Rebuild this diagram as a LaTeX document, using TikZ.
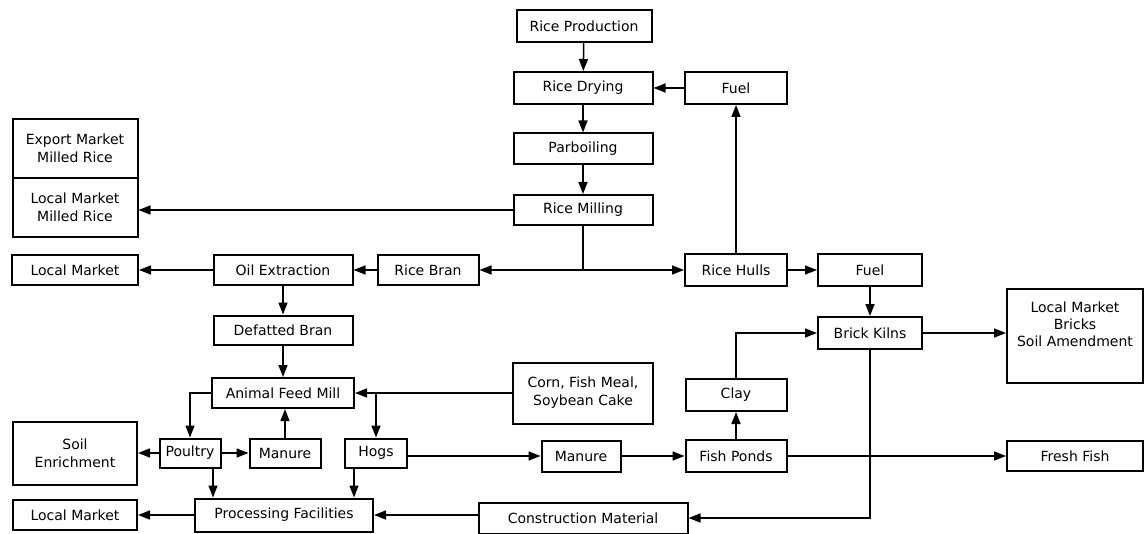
\documentclass[tikz,border=0pt]{standalone}
\usepackage{fontspec}
\setmainfont{DejaVu Sans}
\usetikzlibrary{arrows.meta}
\begin{document}
\begin{tikzpicture}[x=1pt,y=-1pt,
  box/.style={draw,line width=2pt,inner sep=0pt,align=center,font=\fontsize{14}{18}\selectfont},
  txt/.style={inner sep=0pt,align=center,font=\fontsize{14}{17}\selectfont},
  conn/.style={line width=1.5pt},
  arr/.style={conn,-{Triangle[length=12pt,width=9pt]}}]
\useasboundingbox (0,0) rectangle (1147,534);
\fill[white] (0,0) rectangle (1147,534);
% main column
\node[box,minimum width=135,minimum height=32] (rp) at (584,26) {Rice Production};
\node[box,minimum width=139,minimum height=32] (rd) at (583,88) {Rice Drying};
\node[box,minimum width=102,minimum height=32] (f1) at (736,88) {Fuel};
\node[box,minimum width=139,minimum height=31] (pb) at (583,149) {Parboiling};
\node[box,minimum width=139,minimum height=30] (rm) at (583,210) {Rice Milling};
\node[box,minimum width=125,minimum height=59] (emr) at (75,148.5) {Export Market\\Milled Rice};
\node[box,minimum width=125,minimum height=59] (lmr) at (75,207.5) {Local Market\\Milled Rice};
% row 270
\node[box,minimum width=126,minimum height=30] (lm1) at (75,270) {Local Market};
\node[box,minimum width=139,minimum height=30] (oe) at (283,270) {Oil Extraction};
\node[box,minimum width=101,minimum height=30] (rb) at (428,270) {Rice Bran};
\coordinate (j) at (583,270);
\node[box,minimum width=102,minimum height=32] (rh) at (736,270) {Rice Hulls};
\node[box,minimum width=104,minimum height=32] (f2) at (870,270) {Fuel};
\node[box,minimum width=104,minimum height=32] (bk) at (870,333) {Brick Kilns};
\node[box,minimum width=136,minimum height=94] (lmb) at (1075,336) {};
\node[txt] (lmbt) at (1075,324) {Local Market\\Bricks\\Soil Amendment};
% lower part
\node[box,minimum width=139,minimum height=29] (db) at (283,330) {Defatted Bran};
\node[box,minimum width=142,minimum height=30] (afm) at (283,393) {Animal Feed Mill};
\node[box,minimum width=140,minimum height=61] (corn) at (583,393) {Corn, Fish Meal,\\Soybean Cake};
\node[box,minimum width=101,minimum height=32] (clay) at (736,395) {Clay};
\node[box,minimum width=124,minimum height=63] (soil) at (75,453) {Soil\\Enrichment};
\node[box,minimum width=61,minimum height=29] (po) at (190,453) {Poultry};
\node[box,minimum width=71,minimum height=29] (m1) at (285,453) {Manure};
\node[box,minimum width=62,minimum height=29] (hogs) at (376,453) {Hogs};
\node[box,minimum width=79,minimum height=31] (m2) at (581,456) {Manure};
\node[box,minimum width=101,minimum height=32] (fp) at (736,456) {Fish Ponds};
\node[box,minimum width=136,minimum height=30] (ff) at (1075,456) {Fresh Fish};
\node[box,minimum width=124,minimum height=30] (lm2) at (75,515) {Local Market};
\node[box,minimum width=178,minimum height=33] (pf) at (284,515) {Processing Facilities};
\node[box,minimum width=209,minimum height=31] (cm) at (583,518) {Construction Material};
% connectors: main column
\draw[arr] (rp) -- (rd);
\draw[arr] (f1) -- (rd);
\draw[arr] (rd) -- (pb);
\draw[arr] (pb) -- (rm);
\draw[arr] (rm.west) -- (rm.west -| lmr.east);
\draw[conn] (rm.south) -- (j);
\draw[arr] (j) -- (rb.east);
\draw[arr] (j) -- (rh.west);
\draw[arr] (rh) -- (f1);
\draw[arr] (rh) -- (f2);
\draw[arr] (rb) -- (oe);
\draw[arr] (oe) -- (lm1);
\draw[arr] (f2) -- (bk);
\draw[arr] (bk.east) -- (bk.east -| lmb.west);
\draw[arr] (clay.north) |- (bk.west);
\draw[arr] (fp) -- (clay);
\draw[arr] (bk.south) |- (cm.east);
% lower part
\draw[arr] (oe) -- (db);
\draw[arr] (db) -- (afm);
\draw[arr] (corn.west) -- (afm.east);
\draw[arr] (hogs.north |- afm.east) -- (hogs.north);
\draw[arr] (afm.west) -| (po.north);
\draw[arr] (m1.north) -- (m1.north |- afm.south);
\draw[arr] (po) -- (m1);
\draw[arr] (po) -- (soil);
\coordinate (p1) at ([xshift=23pt]po.south);
\coordinate (h1) at ([xshift=-22pt]hogs.south);
\draw[arr] (p1) -- (p1 |- pf.north);
\draw[arr] (h1) -- (h1 |- pf.north);
\draw[arr] (hogs.east |- m2.west) -- (m2.west);
\draw[arr] (m2) -- (fp);
\draw[arr] (fp) -- (ff);
\draw[arr] (cm.west |- pf.east) -- (pf.east);
\draw[arr] (pf) -- (lm2);
\end{tikzpicture}
\end{document}
